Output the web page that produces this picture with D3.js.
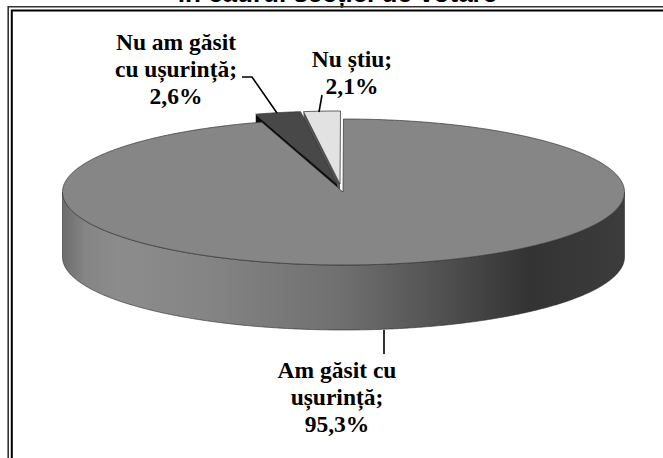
<!DOCTYPE html>
<html>
<head>
<meta charset="utf-8">
<script src="https://cdn.jsdelivr.net/npm/d3@7"></script>
<style>
  html, body { margin: 0; padding: 0; background: #fff; overflow: hidden; }
  svg { display: block; }
</style>
</head>
<body>
<svg id="chart" width="663" height="458"></svg>
<script>
const WIDTH = 663;
const HEIGHT = 458;

// data
const categories = ["Am găsit cu ușurință", "Nu am găsit cu ușurință", "Nu știu"];
const values = [95.3, 2.6, 2.1];
const labelLines = [
  ["Am găsit cu", "ușurință;", "95,3%"],
  ["Nu am găsit", "cu ușurință;", "2,6%"],
  ["Nu știu;", "2,1%"]
];
const titleText = "în cadrul secției de votare";

// colours per slice
const topColors = ["#868686", "#484848", "#e2e2e2"];
const wallColors = ["#666666", "#0c0c0c", "#555555"];

// layout, tuned by eye against the reference
const CX = 343.5, CY = 192, RX = 281, RY = 73;
const APEX_Y = 192;
const DEPTH = 65;
const explode = [{ x: 0, y: 0 }, { x: -6, y: -8 }, { x: -3, y: -8 }];
const labelPos = [{ x: 337, y: 378 }, { x: 176, y: 50 }, { x: 352, y: 67 }];
const LINE_H = 27;
const leaders = [
  [[384, 330], [384, 354]],
  [[242, 77], [252, 77], [277, 113]],
  [[322, 95], [319, 112]]
];

const svg = d3.select("#chart");

const pie = d3.pie().sort(null)(values);

function rim(a, off) {
  return [CX + off.x + RX * Math.sin(a), CY + off.y - RY * Math.cos(a)];
}

const line = d3.line();

// rim points between two angles, every half degree
function rimPoints(a0, a1, off) {
  const n = Math.max(2, Math.ceil(Math.abs(a1 - a0) / (Math.PI / 360)));
  return d3.range(n + 1).map(i => rim(a0 + (a1 - a0) * i / n, off));
}

function topPath(d, i) {
  const off = explode[i];
  const apex = [CX - 0.5 + off.x, APEX_Y + off.y];
  return line([apex, ...rimPoints(d.startAngle, d.endAngle, off)]) + "Z";
}

// horizontal shading of the front wall
const grad = svg.append("defs").append("linearGradient")
  .attr("id", "wall")
  .attr("gradientUnits", "userSpaceOnUse")
  .attr("x1", CX - RX).attr("x2", CX + RX)
  .attr("y1", 0).attr("y2", 0);
const wallStops = [
  [0, "#6c6c6c"], [0.04, "#858585"], [0.1, "#8c8c8c"], [0.25, "#858585"],
  [0.5, "#6f6f6f"], [0.65, "#555555"], [0.83, "#333333"], [1, "#3c3c3c"]
];
grad.selectAll("stop").data(wallStops).enter().append("stop")
  .attr("offset", d => d[0])
  .attr("stop-color", d => d[1]);

// title is cut by the top of the frame
svg.append("text")
  .attr("x", 337.5)
  .attr("y", 2)
  .attr("text-anchor", "middle")
  .style("font-family", "'Liberation Sans', Arial, sans-serif")
  .style("font-weight", "bold")
  .style("font-size", "26px")
  .style("fill", "#000")
  .text(titleText);

// double frame, open at right and bottom
const frame = svg.append("g").attr("fill", "none");
frame.append("path").attr("d", `M${WIDTH},6.7H8.2V${HEIGHT}`)
  .attr("stroke", "#333").attr("stroke-width", 1.6);
frame.append("path").attr("d", `M${WIDTH},10.4H11.8V${HEIGHT}`)
  .attr("stroke", "#000").attr("stroke-width", 2);

// side walls of the pulled out slices, big slice covers most of them
[2, 1].forEach(i => {
  const off = explode[i];
  const apex = [CX - 0.5 + off.x, APEX_Y + off.y];
  const p = rim(pie[i].startAngle, off);
  svg.append("path")
    .attr("d", line([apex, p, [p[0], p[1] + DEPTH], [apex[0], apex[1] + DEPTH]]) + "Z")
    .style("fill", wallColors[i])
    .style("stroke", "none");
});

// front wall of the big slice
const front = rimPoints(Math.PI / 2, Math.PI * 1.5, { x: 0, y: 0 });
svg.append("path")
  .attr("d", line([...front, ...front.slice().reverse().map(p => [p[0], p[1] + DEPTH])]) + "Z")
  .style("fill", "url(#wall)")
  .style("stroke", "#2a2a2a")
  .style("stroke-width", 0.6);

// slice tops
svg.selectAll(".slice")
  .data(pie)
  .enter()
  .append("path")
  .attr("class", "slice")
  .attr("d", topPath)
  .style("fill", (d, i) => topColors[i])
  .style("stroke", (d, i) => i == 2 ? "#222" : "#333")
  .style("stroke-width", 0.7)
  .append("title")
  .text((d, i) => categories[i]);

// leader lines
leaders.forEach(pts => {
  svg.append("path")
    .attr("d", line(pts))
    .style("fill", "none")
    .style("stroke", "#000")
    .style("stroke-width", 1.6);
});

// labels
labelLines.forEach((lines, i) => {
  const t = svg.append("text")
    .attr("text-anchor", "middle")
    .style("font-family", "'Liberation Serif', 'Times New Roman', serif")
    .style("font-weight", "bold")
    .style("font-size", "23.5px")
    .style("fill", "#000");
  lines.forEach((s, j) => {
    t.append("tspan")
      .attr("x", labelPos[i].x)
      .attr("y", labelPos[i].y + j * LINE_H)
      .text(s);
  });
});
</script>
</body>
</html>
